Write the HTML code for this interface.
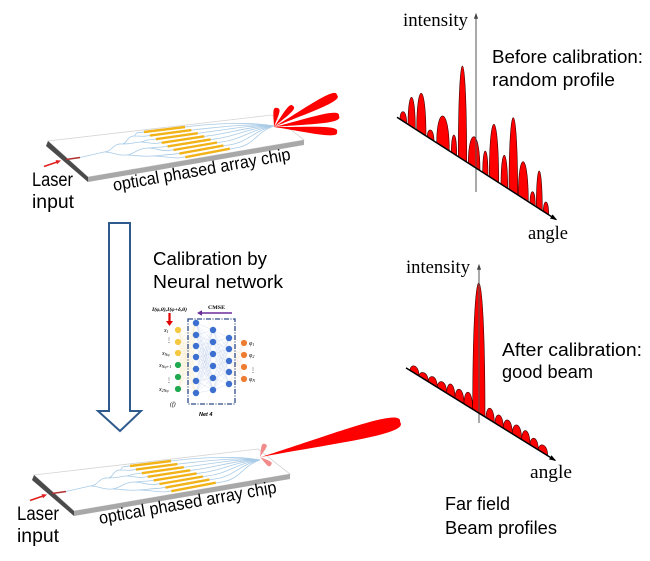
<!DOCTYPE html>
<html><head><meta charset="utf-8">
<style>
html,body{margin:0;padding:0;background:#fff;width:650px;height:561px;overflow:hidden}
svg{display:block}
.s{font-family:"Liberation Sans",sans-serif;fill:#000}
.r{font-family:"Liberation Serif",serif;fill:#000}
</style></head>
<body>
<svg width="650" height="561" viewBox="0 0 650 561" xmlns="http://www.w3.org/2000/svg">
<defs>
<marker id="ah" viewBox="0 0 10 10" refX="8" refY="5" markerWidth="7" markerHeight="7" markerUnits="userSpaceOnUse" orient="auto"><path d="M0,1.5 L10,5 L0,8.5 Z" fill="#000"/></marker>
<marker id="ahg" viewBox="0 0 10 10" refX="8" refY="5" markerWidth="6" markerHeight="6" markerUnits="userSpaceOnUse" orient="auto"><path d="M0,1.5 L10,5 L0,8.5 Z" fill="#444"/></marker>
<g id="chip">
 <polygon points="48,141 272,115 304,140 88,177" fill="#fff" stroke="#d4d4d4" stroke-width="0.8"/>
 <polygon points="48,141 88,177 88,182 46,146" fill="#4a4a4a"/>
 <polygon points="88,177 304,140 304,145 88,182" fill="#a8a8a8"/>
 <g fill="none" stroke="#a9cbe6" stroke-width="0.8">
  <path d="M80 157.5L104 152"/>
  <path d="M104 152C112 152 113 143 122 144M104 152C113 152 117 156 126 155"/>
  <path d="M122 144C127 144 127 136 134 136M122 144C130 144 132 143 140 142M126 155C133 155 138 148 148 148M126 155C136 155 142 157 152 156"/>
  <path d="M134 136C136 136 135 132.7 138 132.7M134 136C138 136 140 136.3 143.9 136.3M140 142C144 142 145 139.9 149.8 139.9M140 142C146 142 150 143.5 155.7 143.5M148 148C153 148 155 147.1 161.6 147.1M148 148C155 148 160 150.7 167.5 150.7M152 156C160 156 165 154.3 173.4 154.3M152 156C162 156 170 157.9 179.3 157.9"/>
  <path d="M138 132.7L190 126.4C210 124 250 121.3 274 126"/>
  <path d="M143.9 136.3L196.4 129.5C216.4 127.5 250 122.8 274 126"/>
  <path d="M149.8 139.9L202.8 132.6C222.8 130.5 250 124.3 274 126"/>
  <path d="M155.7 143.5L209.2 135.7C229.2 133.5 250 125.8 274 126"/>
  <path d="M161.6 147.1L215.6 138.8C235.6 136.5 250 127.3 274 126"/>
  <path d="M167.5 150.7L222 141.9C242 139.5 252 128.8 274 126"/>
  <path d="M173.4 154.3L228.4 145C248.4 142.5 254 130.3 274 126"/>
  <path d="M179.3 157.9L234.8 148.1C254.8 145.5 256 131.8 274 126"/>
 </g>
 <g stroke="#f2b318" stroke-width="2.4">
  <line x1="144" y1="132" x2="185" y2="127"/>
  <line x1="149.9" y1="135.6" x2="191.4" y2="130.1"/>
  <line x1="155.8" y1="139.2" x2="197.8" y2="133.2"/>
  <line x1="161.7" y1="142.8" x2="204.2" y2="136.3"/>
  <line x1="167.6" y1="146.4" x2="210.6" y2="139.4"/>
  <line x1="173.5" y1="150" x2="217" y2="142.5"/>
  <line x1="179.4" y1="153.6" x2="223.4" y2="145.6"/>
  <line x1="185.3" y1="157.2" x2="229.8" y2="148.7"/>
 </g>
 <line x1="66" y1="159.5" x2="80" y2="157.5" stroke="#b03030" stroke-width="1.5"/>
 <line x1="44" y1="166.5" x2="57" y2="162" stroke="#e02020" stroke-width="1.6"/>
 <polygon points="61,160.5 57,164.3 55.6,160.1" fill="#e02020"/>
</g>
</defs>

<use href="#chip"/>
<use href="#chip" transform="translate(-14,334)"/>

<g fill="#ff0000">
 <path d="M274 127C277.2 117.8 282.9 108 277 108C271.4 106.1 273.9 117.2 274 127Z"/>
 <path d="M274 127C284.7 117.6 298.3 108.8 293 106C289.6 101 282.3 115.4 274 127Z"/>
 <path d="M274 127C306.6 113.2 344.1 101.2 337 95C336.2 85.6 304.4 108.8 274 127Z"/>
 <path d="M274 127C306.9 124 343.7 124.1 339 116C340.8 106.8 306.1 119 274 127Z"/>
 <path d="M274 127C305.3 131.7 339.6 140 337 132C340.8 124.5 305.7 127.3 274 127Z"/>
</g>
<g fill="#f28b8b">
 <path d="M260 457C263.8 451 269.8 445.1 265 444C260.7 441.6 261.2 450 260 457Z"/>
 <path d="M260 457C264.7 462.1 268.7 469.3 271 465C274.4 461.5 266.3 459.9 260 457Z"/>
</g>
<path d="M261 457C331.5 443.6 410.5 434.4 400 422C403.4 406.2 329.5 435.5 261 457Z" fill="#ff0000"/>

<text class="s" font-size="19" x="32" y="186" textLength="41" lengthAdjust="spacingAndGlyphs">Laser</text>
<text class="s" font-size="19" x="32" y="208" textLength="42" lengthAdjust="spacingAndGlyphs">input</text>
<text class="s" font-size="17.5" x="114" y="191" transform="rotate(-10 114 191)" textLength="180" lengthAdjust="spacingAndGlyphs">optical phased array chip</text>
<text class="s" font-size="19" x="17" y="520" textLength="42" lengthAdjust="spacingAndGlyphs">Laser</text>
<text class="s" font-size="19" x="17" y="542" textLength="42" lengthAdjust="spacingAndGlyphs">input</text>
<text class="s" font-size="17.5" x="100" y="524" transform="rotate(-10 100 524)" textLength="180" lengthAdjust="spacingAndGlyphs">optical phased array chip</text>

<polygon points="109,223 130,223 130,411 141,411 120,431 98,411 109,411" fill="#fff" stroke="#2e5a8e" stroke-width="2" stroke-linejoin="miter"/>

<text class="s" font-size="18.5" x="153" y="265" textLength="114" lengthAdjust="spacingAndGlyphs">Calibration by</text>
<text class="s" font-size="18.5" x="153" y="288" textLength="130" lengthAdjust="spacingAndGlyphs">Neural network</text>

<g fill="none" stroke-width="0.35" opacity="0.55">
 <path stroke="#f0d48c" d="M178 330L196 323M178 330L196 335M178 330L196 346M178 330L196 357M178 330L196 369M178 330L196 381M178 330L196 393M178 342L196 323M178 342L196 335M178 342L196 346M178 342L196 357M178 342L196 369M178 342L196 381M178 342L196 393M178 353L196 323M178 353L196 335M178 353L196 346M178 353L196 357M178 353L196 369M178 353L196 381M178 353L196 393M178 365L196 323M178 365L196 335M178 365L196 346M178 365L196 357M178 365L196 369M178 365L196 381M178 365L196 393M178 377L196 323M178 377L196 335M178 377L196 346M178 377L196 357M178 377L196 369M178 377L196 381M178 377L196 393M178 389L196 323M178 389L196 335M178 389L196 346M178 389L196 357M178 389L196 369M178 389L196 381M178 389L196 393"/>
 <path stroke="#9fb6e0" d="M196 323L213 330M196 323L213 342M196 323L213 354M196 323L213 366M196 323L213 378M196 323L213 390M196 335L213 330M196 335L213 342M196 335L213 354M196 335L213 366M196 335L213 378M196 335L213 390M196 346L213 330M196 346L213 342M196 346L213 354M196 346L213 366M196 346L213 378M196 346L213 390M196 357L213 330M196 357L213 342M196 357L213 354M196 357L213 366M196 357L213 378M196 357L213 390M196 369L213 330M196 369L213 342M196 369L213 354M196 369L213 366M196 369L213 378M196 369L213 390M196 381L213 330M196 381L213 342M196 381L213 354M196 381L213 366M196 381L213 378M196 381L213 390M196 393L213 330M196 393L213 342M196 393L213 354M196 393L213 366M196 393L213 378M196 393L213 390"/>
 <path stroke="#9fb6e0" d="M213 330L229 338M213 330L229 349M213 330L229 361M213 330L229 372M213 330L229 384M213 342L229 338M213 342L229 349M213 342L229 361M213 342L229 372M213 342L229 384M213 354L229 338M213 354L229 349M213 354L229 361M213 354L229 372M213 354L229 384M213 366L229 338M213 366L229 349M213 366L229 361M213 366L229 372M213 366L229 384M213 378L229 338M213 378L229 349M213 378L229 361M213 378L229 372M213 378L229 384M213 390L229 338M213 390L229 349M213 390L229 361M213 390L229 372M213 390L229 384"/>
 <path stroke="#f3c9a0" d="M229 338L244 343M229 338L244 355M229 338L244 367M229 338L244 379M229 349L244 343M229 349L244 355M229 349L244 367M229 349L244 379M229 361L244 343M229 361L244 355M229 361L244 367M229 361L244 379M229 372L244 343M229 372L244 355M229 372L244 367M229 372L244 379M229 384L244 343M229 384L244 355M229 384L244 367M229 384L244 379"/>
</g>
<rect x="188" y="319" width="47" height="85" fill="none" stroke="#2d4a8a" stroke-width="1.3" stroke-dasharray="5 1.5 1 1.5"/>
<g fill="#f5c842">
 <circle cx="178" cy="330" r="3.1"/><circle cx="178" cy="342" r="3.1"/><circle cx="178" cy="353" r="3.1"/>
</g>
<g fill="#1fa84f">
 <circle cx="178" cy="365" r="3.1"/><circle cx="178" cy="377" r="3.1"/><circle cx="178" cy="389" r="3.1"/>
</g>
<g fill="#3c6fcf">
 <circle cx="196" cy="323" r="3.2"/><circle cx="196" cy="335" r="3.2"/><circle cx="196" cy="346" r="3.2"/><circle cx="196" cy="357" r="3.2"/><circle cx="196" cy="369" r="3.2"/><circle cx="196" cy="381" r="3.2"/><circle cx="196" cy="393" r="3.2"/>
 <circle cx="213" cy="330" r="3.2"/><circle cx="213" cy="342" r="3.2"/><circle cx="213" cy="354" r="3.2"/><circle cx="213" cy="366" r="3.2"/><circle cx="213" cy="378" r="3.2"/><circle cx="213" cy="390" r="3.2"/>
 <circle cx="229" cy="338" r="3.2"/><circle cx="229" cy="349" r="3.2"/><circle cx="229" cy="361" r="3.2"/><circle cx="229" cy="372" r="3.2"/><circle cx="229" cy="384" r="3.2"/>
</g>
<g fill="#ed7d31">
 <circle cx="244" cy="343" r="3.1"/><circle cx="244" cy="355" r="3.1"/><circle cx="244" cy="367" r="3.1"/><circle cx="244" cy="379" r="3.1"/>
</g>
<text class="r" font-size="5.5" font-style="italic" font-weight="bold" x="152" y="311" textLength="35" lengthAdjust="spacingAndGlyphs">I(φ,θ),I(φ+δ,θ)</text>
<line x1="169.5" y1="313" x2="169.5" y2="321" stroke="#e00000" stroke-width="2.2"/>
<polygon points="166,321 173,321 169.5,326" fill="#e00000"/>
<text class="r" font-size="5.5" font-weight="bold" x="208" y="309" textLength="17" lengthAdjust="spacingAndGlyphs">CMSE</text>
<line x1="201" y1="313" x2="232" y2="313" stroke="#6a2c9a" stroke-width="1.6"/>
<polygon points="197,313 202,310.3 202,315.7" fill="#6a2c9a"/>
<g class="r" font-size="6" font-style="italic" fill="#333">
 <text x="164" y="332">x<tspan font-size="4" dy="1">1</tspan></text>
 <text x="166" y="342" font-style="normal">⋮</text>
 <text x="162" y="355">x<tspan font-size="4" dy="1">Nφ</tspan></text>
 <text x="159" y="367">x<tspan font-size="4" dy="1">Nφ+1</tspan></text>
 <text x="166" y="382" font-style="normal">⋮</text>
 <text x="159" y="391">x<tspan font-size="4" dy="1">2Nφ</tspan></text>
 <text x="249" y="345">φ<tspan font-size="4" dy="1">1</tspan></text>
 <text x="249" y="357">φ<tspan font-size="4" dy="1">2</tspan></text>
 <text x="250" y="372" font-style="normal">⋮</text>
 <text x="249" y="381">φ<tspan font-size="4" dy="1">N</tspan></text>
 <text x="170" y="406" font-size="6">(f)</text>
</g>
<text class="s" font-size="5.5" font-style="italic" font-weight="bold" x="199" y="416">Net 4</text>

<g fill="#ff0000" stroke="#3a0000" stroke-width="0.6">
 <path d="M400 119.04C400 108.53 406.7 108.53 406.7 123.35Z"/>
 <path d="M408 124.19C408 87.55 415.3 87.55 415.3 128.89Z"/>
 <path d="M416.7 129.79C416.7 80.13 426 80.13 426 135.78Z"/>
 <path d="M427.3 136.62C427.3 127.08 434 127.08 434 140.93Z"/>
 <path d="M436.7 142.67C436.7 105.76 449.3 105.76 449.3 150.79Z"/>
 <path d="M451.3 152.08C451.3 128.73 456.7 128.73 456.7 155.55Z"/>
 <path d="M458.3 156.58C458.3 34.91 466.7 34.91 466.7 161.99Z"/>
 <path d="M468.3 163.02C468.3 126.67 480 126.67 480 170.56Z"/>
 <path d="M482.7 172.3C482.7 143.33 488 143.33 488 175.71Z"/>
 <path d="M489.3 176.55C489.3 105.88 498.7 105.88 498.7 182.6Z"/>
 <path d="M501 184.08C501 144.99 507.7 144.99 507.7 188.4Z"/>
 <path d="M509 189.23C509 92.92 517.7 92.92 517.7 194.84Z"/>
 <path d="M518.3 195.22C518.3 149.45 528.3 149.45 528.3 201.66Z"/>
 <path d="M530 202.76C530 187.44 535.3 187.44 535.3 206.17Z"/>
 <path d="M536.3 206.82C536.3 158.41 542.3 158.41 542.3 210.68Z"/>
 <path d="M543.3 211.32C543.3 198.31 548.7 198.31 548.7 214.8Z"/>
</g>
<line x1="476" y1="192" x2="476" y2="14" stroke="#555" stroke-width="1" marker-end="url(#ahg)"/>
<line x1="397" y1="117.3" x2="556" y2="219.5" stroke="#000" stroke-width="1.5" marker-end="url(#ah)"/>
<text class="r" font-size="19" x="403" y="26" textLength="65" lengthAdjust="spacingAndGlyphs">intensity</text>
<text class="r" font-size="19" x="528" y="239" textLength="40" lengthAdjust="spacingAndGlyphs">angle</text>
<text class="s" font-size="18.5" x="492" y="63" textLength="151" lengthAdjust="spacingAndGlyphs">Before calibration:</text>
<text class="s" font-size="18.5" x="492" y="86" textLength="123" lengthAdjust="spacingAndGlyphs">random profile</text>

<g fill="#ff0000" stroke="#3a0000" stroke-width="0.6">
 <path d="M410 370.4C410 363.6 419 363.6 419 375.98Z"/>
 <path d="M419 375.98C419 370.64 428.3 370.64 428.3 381.75Z"/>
 <path d="M428.3 381.75C428.3 374.08 437.3 374.08 437.3 387.33Z"/>
 <path d="M437.3 387.33C437.3 378.85 446.7 378.85 446.7 393.15Z"/>
 <path d="M446.7 393.15C446.7 380.09 455 380.09 455 398.3Z"/>
 <path d="M455 398.3C455 385.37 464 385.37 464 403.88Z"/>
 <path d="M464 403.88C464 387.55 472.7 387.55 472.7 409.27Z"/>
 <path d="M472.7 409.27C472.7 239.64 485 239.64 485 416.9Z"/>
 <path d="M486 417.52C486 404.37 494.3 404.37 494.3 422.67Z"/>
 <path d="M495 423.1C495 411.44 503.3 411.44 503.3 428.25Z"/>
 <path d="M503.3 428.25C503.3 416.32 512.3 416.32 512.3 433.83Z"/>
 <path d="M512.3 433.83C512.3 421.08 521.7 421.08 521.7 439.65Z"/>
 <path d="M521.7 439.65C521.7 426.85 530 426.85 530 444.8Z"/>
 <path d="M530 444.8C530 435.28 538.3 435.28 538.3 449.95Z"/>
 <path d="M538.3 449.95C538.3 442.39 547.7 442.39 547.7 455.77Z"/>
</g>
<line x1="479" y1="423" x2="479" y2="265" stroke="#555" stroke-width="1" marker-end="url(#ahg)"/>
<line x1="406" y1="367.9" x2="555" y2="460.3" stroke="#000" stroke-width="1.5" marker-end="url(#ah)"/>
<text class="r" font-size="19" x="406" y="273" textLength="64" lengthAdjust="spacingAndGlyphs">intensity</text>
<text class="r" font-size="19" x="530" y="478" textLength="42" lengthAdjust="spacingAndGlyphs">angle</text>
<text class="s" font-size="18.5" x="502" y="356" textLength="140" lengthAdjust="spacingAndGlyphs">After calibration:</text>
<text class="s" font-size="18.5" x="502" y="378" textLength="91" lengthAdjust="spacingAndGlyphs">good beam</text>
<text class="s" font-size="18.5" x="445" y="510" textLength="65" lengthAdjust="spacingAndGlyphs">Far field</text>
<text class="s" font-size="18.5" x="445" y="534" textLength="112" lengthAdjust="spacingAndGlyphs">Beam profiles</text>
</svg>
</body></html>
